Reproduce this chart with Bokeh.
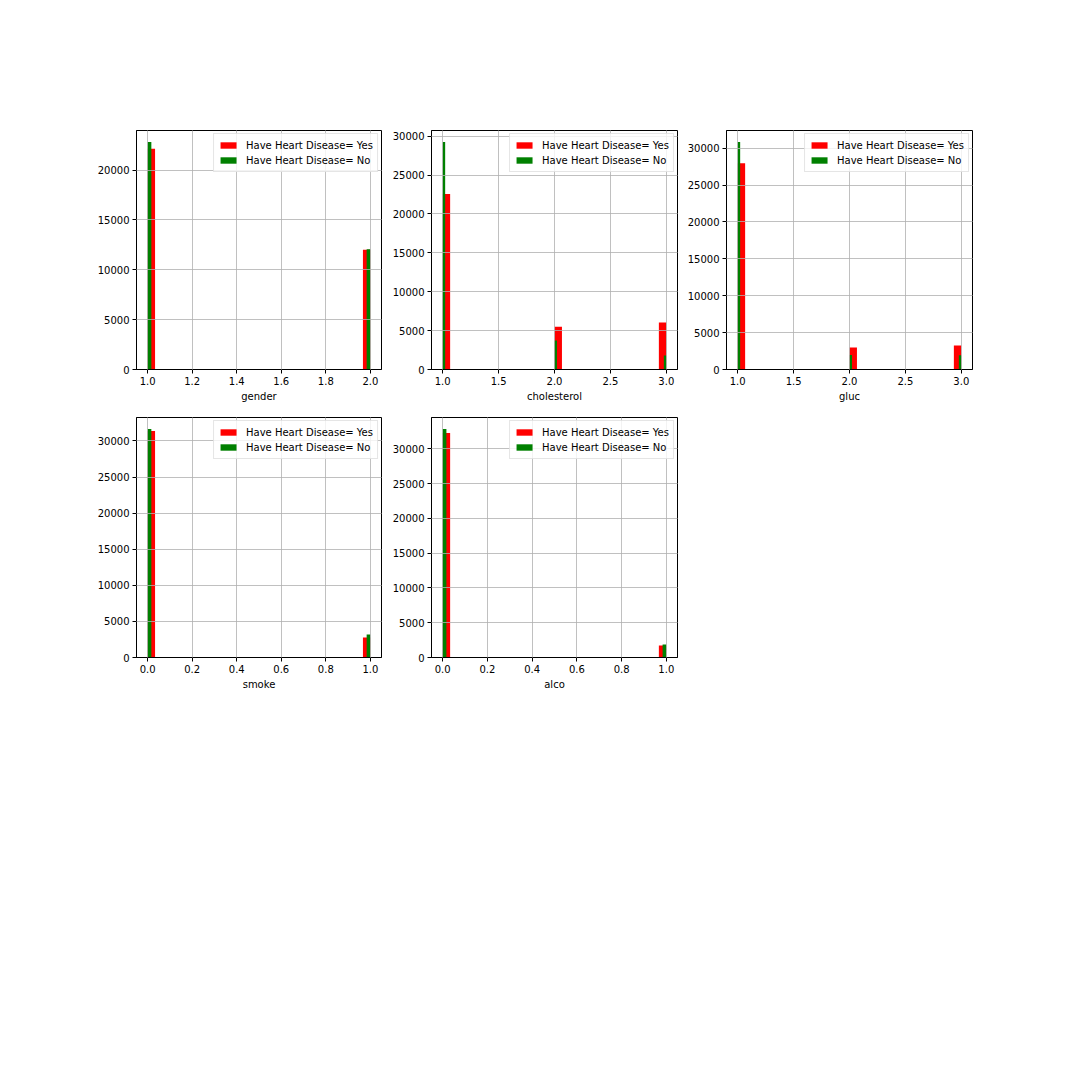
import numpy as np
from bokeh.plotting import figure
from bokeh.layouts import column, row
from bokeh.models import FixedTicker, PrintfTickFormatter, Legend, LegendItem, Range1d
from bokeh.embed import file_html
from bokeh.resources import INLINE

# ---- data ----
features = ["gender", "cholesterol", "gluc", "smoke", "alco"]
gender_vals = [1, 2]
gender_yes = [22130, 12000]
gender_no = [22830, 12050]
chol_vals = [1, 2, 3]
chol_yes = [22560, 5510, 6030]
chol_no = [29270, 3720, 1800]
gluc_vals = [1, 2, 3]
gluc_yes = [27970, 2970, 3240]
gluc_no = [30850, 1980, 1940]
smoke_vals = [0, 1]
smoke_yes = [31390, 2780]
smoke_no = [31670, 3190]
alco_vals = [0, 1]
alco_yes = [32280, 1730]
alco_no = [32850, 1870]
label_yes = "Have Heart Disease= Yes"
label_no = "Have Heart Disease= No"

datasets = [
    (gender_vals, gender_yes, gender_no),
    (chol_vals, chol_yes, chol_no),
    (gluc_vals, gluc_yes, gluc_no),
    (smoke_vals, smoke_yes, smoke_no),
    (alco_vals, alco_yes, alco_no),
]

RED_BINS = 30
GREEN_BINS = [60, 90, 90, 60, 60]
X_STEP = [0.2, 0.5, 0.5, 0.2, 0.2]
FONT = "DejaVu Sans"

# layout geometry: (left, frame_w, right) per column, (top, frame_h, bottom) per row
cols = [(136, 245, 5), (45, 246, 4), (45, 246, 8)]
rows_geo = [(130, 239, 40), (8, 240, 40)]


def bin_edges(vals, nbins):
    lo, hi = min(vals), max(vals)
    edges = np.linspace(lo, hi, nbins + 1)
    lefts, rights = [], []
    for v in vals:
        idx = int(np.searchsorted(edges, v, side="right") - 1)
        idx = min(max(idx, 0), nbins - 1)
        lefts.append(edges[idx])
        rights.append(edges[idx + 1])
    return lefts, rights


def make_plot(i):
    vals, yes, no = datasets[i]
    c = cols[i % 3]
    r = rows_geo[i // 3]
    lo, hi = min(vals), max(vals)
    span = hi - lo
    ymax = max(max(yes), max(no)) * 1.05
    p = figure(
        frame_width=c[1], frame_height=r[1],
        min_border_left=c[0], min_border_right=c[2],
        min_border_top=r[0], min_border_bottom=r[2],
        x_range=Range1d(lo - 0.05 * span, hi + 0.05 * span),
        y_range=Range1d(0, ymax),
        output_backend="svg", toolbar_location=None,
    )
    rl, rr = bin_edges(vals, RED_BINS)
    gl, gr = bin_edges(vals, GREEN_BINS[i])
    red = p.quad(left=rl, right=rr, bottom=0, top=yes, fill_color="#ff0000", line_color=None)
    green = p.quad(left=gl, right=gr, bottom=0, top=no, fill_color="#008000", line_color=None)

    step = X_STEP[i]
    xt = list(np.round(np.arange(lo, hi + step / 2, step), 6))
    yt = list(range(0, int(ymax) + 1, 5000))
    p.xaxis.ticker = FixedTicker(ticks=xt)
    p.yaxis.ticker = FixedTicker(ticks=yt)
    p.xaxis.formatter = PrintfTickFormatter(format="%.1f")
    p.yaxis.formatter = PrintfTickFormatter(format="%d")
    p.xaxis.axis_label = features[i]
    for ax in (p.xaxis, p.yaxis):
        ax.major_tick_out = 4
        ax.major_tick_in = 0
        ax.minor_tick_line_color = None
        ax.major_tick_line_color = "black"
        ax.axis_line_color = "black"
        ax.major_label_text_font = FONT
        ax.major_label_text_font_size = "10px"
        ax.major_label_text_color = "black"
        ax.major_label_standoff = 3
        ax.axis_label_text_font = FONT
        ax.axis_label_text_font_size = "10px"
        ax.axis_label_text_font_style = "normal"
        ax.axis_label_text_color = "black"
        ax.axis_label_standoff = 3
    p.grid.grid_line_color = "#b0b0b0"
    p.grid.grid_line_width = 0.8
    p.grid.level = "guide"
    p.outline_line_color = "black"
    p.outline_line_width = 1
    p.outline_line_alpha = 1

    legend = Legend(
        items=[LegendItem(label=label_yes, renderers=[red]),
               LegendItem(label=label_no, renderers=[green])],
        location="top_right",
        label_text_font=FONT, label_text_font_size="10px",
        label_text_color="black",
        glyph_width=20, glyph_height=8, label_height=14, spacing=1,
        label_standoff=8, padding=4, margin=3,
        border_line_color="#cccccc", border_line_width=1,
        background_fill_alpha=0.8,
    )
    p.add_layout(legend, "center")
    return p


plots = [make_plot(i) for i in range(5)]
layout = column(row(plots[0], plots[1], plots[2]), row(plots[3], plots[4]))

open("out.html", "w").write(file_html(layout, INLINE))
